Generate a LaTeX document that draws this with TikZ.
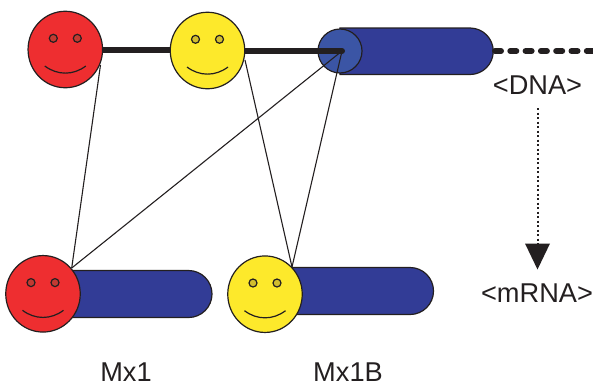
\documentclass[tikz,border=0pt]{standalone}
\usepackage{fontspec}
\setmainfont{Liberation Sans}
\usetikzlibrary{shapes.geometric}
\definecolor{fred}{HTML}{EE2E30}
\definecolor{fyel}{HTML}{FDE92B}
\definecolor{fblue}{HTML}{323C96}
\definecolor{fcap}{HTML}{3B55A5}
\definecolor{ink}{HTML}{231F20}
\definecolor{redeye}{HTML}{C23A32}
\definecolor{yeleye}{HTML}{D2BE2E}
\tikzset{
  x=1pt,y=-1pt,
  outline/.style={draw=ink,line width=1.2pt},
  face/.style={ellipse,outline,minimum width=74.5pt,minimum height=76.5pt,inner sep=0pt},
  eye/.style={circle,outline,minimum size=8pt,inner sep=0pt},
  gene/.style={outline,fill=fblue},
  thin link/.style={draw=ink,line width=1.1pt},
  label/.style={font=\fontsize{27.2}{30}\selectfont,text=ink,inner sep=0pt},
  smiley/.pic={
    \draw[ink,line width=1.2pt] (-20.5,16.5) .. controls (-8,26) and (8,26) .. (20.5,16.5);
  }
}
\begin{document}
\begin{tikzpicture}
\useasboundingbox (0,0) rectangle (593,386);
\coordinate (barend) at (342,51);
\coordinate (dnaend) at (593,51);
\coordinate (cylr) at (495,51);
% top cylinder
\draw[gene] (340,28) -- (470,28) arc[start angle=90,end angle=-90,x radius=23.25,y radius=-23.25] -- (340,74.5) -- cycle;
\node[circle,outline,fill=fcap,minimum size=44pt,inner sep=0pt] (cap) at (340,51) {};
% bottom genes
\draw[gene] (30,270.5) -- (188.5,270.5) arc[start angle=90,end angle=-90,x radius=23.5,y radius=-23.5] -- (30,317.5) -- cycle;
\draw[gene] (250,267.5) -- (410,267.5) arc[start angle=90,end angle=-90,x radius=23.5,y radius=-23.5] -- (250,314.5) -- cycle;
% DNA backbone
\coordinate (t1e) at (100,49.5);
\coordinate (t2w) at (175,49.5);
\coordinate (t2e) at (240,51);
\draw[ink,line width=6pt] (t1e) -- (t2w);
\draw[ink,line width=6pt,line cap=round] (t2e) -- (barend);
\draw[ink,line width=6pt,line cap=round,dash pattern=on 6pt off 9.3pt] (cylr) -- (dnaend);
% faces
\node[face,fill=fred] (top1) at (65.3,49.5) {};
\node[face,fill=fyel] (top2) at (207.5,50.5) {};
\node[face,fill=fred] (bot1) at (43,293.8) {};
\node[face,fill=fyel] (bot2) at (265,294.2) {};
\foreach \f/\c in {top1/redeye,top2/yeleye,bot1/redeye,bot2/yeleye}{
  \node[eye,fill=\c] at ([shift={(-12,-11.2)}]\f) {};
  \node[eye,fill=\c] at ([shift={(12,-11.2)}]\f) {};
  \pic at (\f) {smiley};
}
% links
\coordinate (a1) at (100.5,65);
\coordinate (a2) at (71.7,268);
\coordinate (b1) at (245,60);
\coordinate (b2) at (292,267);
\draw[thin link] (a1) -- (a2);
\draw[thin link] (a2) -- (barend);
\draw[thin link] (b1) -- (b2);
\draw[thin link] (b2) -- (barend);
% labels
\node[label] (dna) at (537.5,85) {<DNA>};
\node[label] (mrna) at (537,293.5) {<mRNA>};
\node[label] at (126,372.5) {Mx1};
\node[label] at (348,372.5) {Mx1B};
% arrow
\coordinate (arrS) at (537.5,108);
\coordinate (arrE) at (537.5,244);
\draw[ink,line width=2pt,dash pattern=on 2pt off 2.5pt] (arrS) -- (arrE);
\fill[ink] (525,243.5) -- (550,243.5) -- (537.5,269.5) -- cycle;
\end{tikzpicture}
\end{document}
